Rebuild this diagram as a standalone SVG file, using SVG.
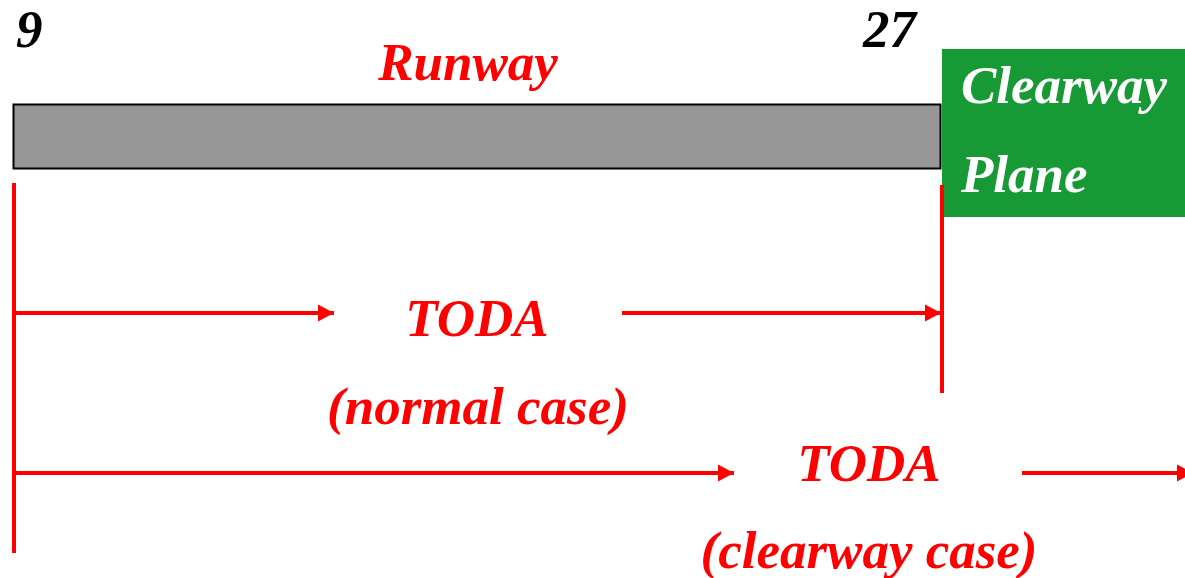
<svg xmlns="http://www.w3.org/2000/svg" width="1185" height="578" viewBox="0 0 1185 578">
<defs>
<style>
.t{font-family:"Liberation Serif","Times New Roman",serif;font-weight:bold;font-style:italic;font-size:53px}
.red{fill:#ff0000}
.ln{stroke:#ff0000;stroke-width:4;fill:none}
</style>
<marker id="ah" markerUnits="userSpaceOnUse" markerWidth="16" markerHeight="18" refX="16" refY="9" orient="auto" viewBox="0 0 16 18">
<path d="M0,0.5 L16,9 L0,17.5 Z" fill="#ff0000"/>
</marker>
</defs>
<rect width="1185" height="578" fill="#ffffff"/>
<g id="runway">
<rect x="13.5" y="104.5" width="927" height="64" fill="#969696" stroke="#000000" stroke-width="2"/>
<text class="t red" x="468" y="80" text-anchor="middle">Runway</text>
</g>
<g id="label-9"><text class="t" x="16" y="47" fill="#000000">9</text></g>
<g id="label-27"><text class="t" x="863" y="47" fill="#000000">27</text></g>
<g id="clearway">
<rect x="942" y="49" width="243" height="168" fill="#179a36"/>
<text class="t" x="961" y="103" fill="#ffffff">Clearway</text>
<text class="t" x="961" y="192" fill="#ffffff">Plane</text>
</g>
<g id="connectors">
<line class="ln" x1="14" y1="183" x2="14" y2="553"/>
<line class="ln" x1="942" y1="185" x2="942" y2="393"/>
<line class="ln" x1="14" y1="313" x2="334" y2="313" marker-end="url(#ah)"/>
<line class="ln" x1="622" y1="313" x2="941" y2="313" marker-end="url(#ah)"/>
<line class="ln" x1="14" y1="473" x2="734" y2="473" marker-end="url(#ah)"/>
<line class="ln" x1="1022" y1="473" x2="1193" y2="473" marker-end="url(#ah)"/>
</g>
<g id="toda-normal">
<text class="t red" x="477" y="336" text-anchor="middle">TODA</text>
<text class="t red" x="478" y="424" text-anchor="middle">(normal case)</text>
</g>
<g id="toda-clearway">
<text class="t red" x="869" y="481" text-anchor="middle">TODA</text>
<text class="t red" x="869" y="568" text-anchor="middle">(clearway case)</text>
</g>
</svg>
